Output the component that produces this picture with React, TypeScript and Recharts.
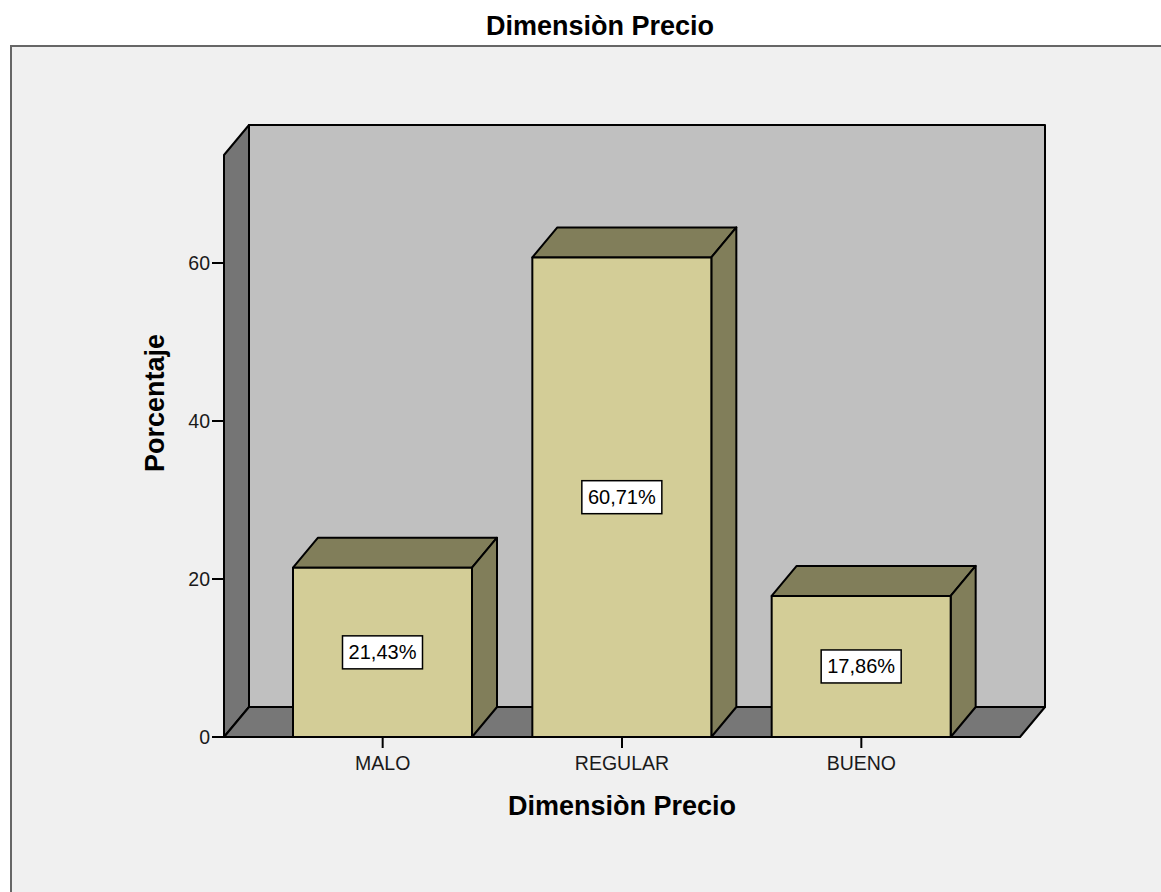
import React from 'react';
import {
  Bar,
  BarChart,
  LabelList,
  ReferenceArea,
  XAxis,
  YAxis,
} from 'recharts';

// Percentages per price rating
const categories = ['MALO', 'REGULAR', 'BUENO'];
const percentages = [21.43, 60.71, 17.86];
const yTicks = [0, 20, 40, 60];
const yMax = 73.67;

const chartTitle = 'Dimensiòn Precio';
const xTitle = 'Dimensiòn Precio';
const yTitle = 'Porcentaje';

const data = categories.map((name, i) => ({ name, value: percentages[i] }));

const FONT = '"Liberation Sans", Arial, sans-serif';
const DEPTH_X = 25;
const DEPTH_Y = 30;
const X_PAD = 39;

const colors = {
  page: '#ffffff',
  frame: '#f0f0f0',
  frameBorder: '#666666',
  backWall: '#c0c0c0',
  sideWall: '#757575',
  floor: '#777777',
  barFront: '#d3cd97',
  barTop: '#817e5a',
  text: '#1a1a1a',
};

// Back wall, left wall and floor of the 3D box.
// The area spans the padded x range, so widen it back to the full plot.
function Walls(props: any) {
  const x = props.x - X_PAD;
  const width = props.width + 2 * X_PAD;
  const { y, height } = props;
  const bottom = y + height;
  const right = x + width;
  return (
    <g stroke='#000' strokeWidth={2} strokeLinejoin='round'>
      <rect
        x={x + DEPTH_X}
        y={y - DEPTH_Y}
        width={width}
        height={height}
        fill={colors.backWall}
      />
      <polygon
        points={`${x},${y} ${x + DEPTH_X},${y - DEPTH_Y} ${x + DEPTH_X},${bottom - DEPTH_Y} ${x},${bottom}`}
        fill={colors.sideWall}
      />
      <polygon
        points={`${x},${bottom} ${x + DEPTH_X},${bottom - DEPTH_Y} ${right + DEPTH_X},${bottom - DEPTH_Y} ${right},${bottom}`}
        fill={colors.floor}
      />
    </g>
  );
}

function Bar3D(props: any) {
  const { x, y, width, height } = props;
  const r = x + width;
  const b = y + height;
  return (
    <g stroke='#000' strokeWidth={2} strokeLinejoin='round'>
      <polygon
        points={`${x},${y} ${x + DEPTH_X},${y - DEPTH_Y} ${r + DEPTH_X},${y - DEPTH_Y} ${r},${y}`}
        fill={colors.barTop}
      />
      <polygon
        points={`${r},${y} ${r + DEPTH_X},${y - DEPTH_Y} ${r + DEPTH_X},${b - DEPTH_Y} ${r},${b}`}
        fill={colors.barTop}
      />
      <rect x={x} y={y} width={width} height={height} fill={colors.barFront} />
    </g>
  );
}

function ValueBox(props: any) {
  const { x, y, width, height, value } = props;
  const text = `${Number(value).toFixed(2).replace('.', ',')}%`;
  const cx = x + width / 2;
  const cy = y + height / 2;
  const w = 80;
  const h = 33;
  return (
    <g>
      <rect
        x={cx - w / 2}
        y={cy - h / 2}
        width={w}
        height={h}
        fill='#fff'
        stroke='#000'
        strokeWidth={1.5}
      />
      <text
        x={cx}
        y={cy + 7}
        textAnchor='middle'
        fontFamily={FONT}
        fontSize={20}
        fill='#000'
      >
        {text}
      </text>
    </g>
  );
}

export default function App() {
  return (
    <div
      style={{
        position: 'absolute',
        left: 0,
        top: 0,
        width: 1161,
        height: 892,
        background: colors.page,
        overflow: 'hidden',
        fontFamily: FONT,
      }}
    >
      <div
        style={{
          position: 'absolute',
          left: 10,
          top: 45,
          width: 1200,
          height: 900,
          background: colors.frame,
          border: `2px solid ${colors.frameBorder}`,
        }}
      />
      <div
        style={{
          position: 'absolute',
          left: 0,
          top: 8,
          width: 1200,
          textAlign: 'center',
          fontSize: 27,
          fontWeight: 'bold',
          color: '#000',
          lineHeight: '36px',
        }}
      >
        {chartTitle}
      </div>
      <div style={{ position: 'absolute', left: 0, top: 0 }}>
        <BarChart
          width={1161}
          height={892}
          data={data}
          margin={{ top: 155, right: 141, bottom: 77, left: 144 }}
          barSize={179}
        >
          <ReferenceArea y1={0} y2={yMax} shape={Walls} ifOverflow='visible' />
          <XAxis
            dataKey='name'
            height={78}
            padding={{ left: X_PAD, right: X_PAD }}
            axisLine={{ stroke: '#000', strokeWidth: 2 }}
            tickLine={{ stroke: '#000', strokeWidth: 2 }}
            tickSize={11}
            tickMargin={8}
            tick={{ fill: colors.text, fontSize: 19.5, fontFamily: FONT }}
            label={{
              content: (p: any) => {
                const vb = p.viewBox;
                return (
                  <text
                    x={vb.x + vb.width / 2}
                    y={vb.y + vb.height}
                    textAnchor='middle'
                    fontFamily={FONT}
                    fontSize={27}
                    fontWeight='bold'
                    fill='#000'
                  >
                    {xTitle}
                  </text>
                );
              },
            }}
          />
          <YAxis
            width={80}
            domain={[0, yMax]}
            ticks={yTicks}
            axisLine={{ stroke: '#000', strokeWidth: 2 }}
            tickLine={{ stroke: '#000', strokeWidth: 2 }}
            tickSize={12}
            tickMargin={2}
            tick={{ fill: colors.text, fontSize: 19.5, fontFamily: FONT }}
            label={{
              content: (p: any) => {
                const vb = p.viewBox;
                const lx = vb.x + 20;
                const ly = vb.y + vb.height / 2 - 43;
                return (
                  <text
                    x={lx}
                    y={ly}
                    transform={`rotate(-90, ${lx}, ${ly})`}
                    textAnchor='middle'
                    fontFamily={FONT}
                    fontSize={27}
                    fontWeight='bold'
                    fill='#000'
                  >
                    {yTitle}
                  </text>
                );
              },
            }}
          />
          <Bar dataKey='value' shape={Bar3D} isAnimationActive={false}>
            <LabelList dataKey='value' content={ValueBox} />
          </Bar>
        </BarChart>
      </div>
    </div>
  );
}
